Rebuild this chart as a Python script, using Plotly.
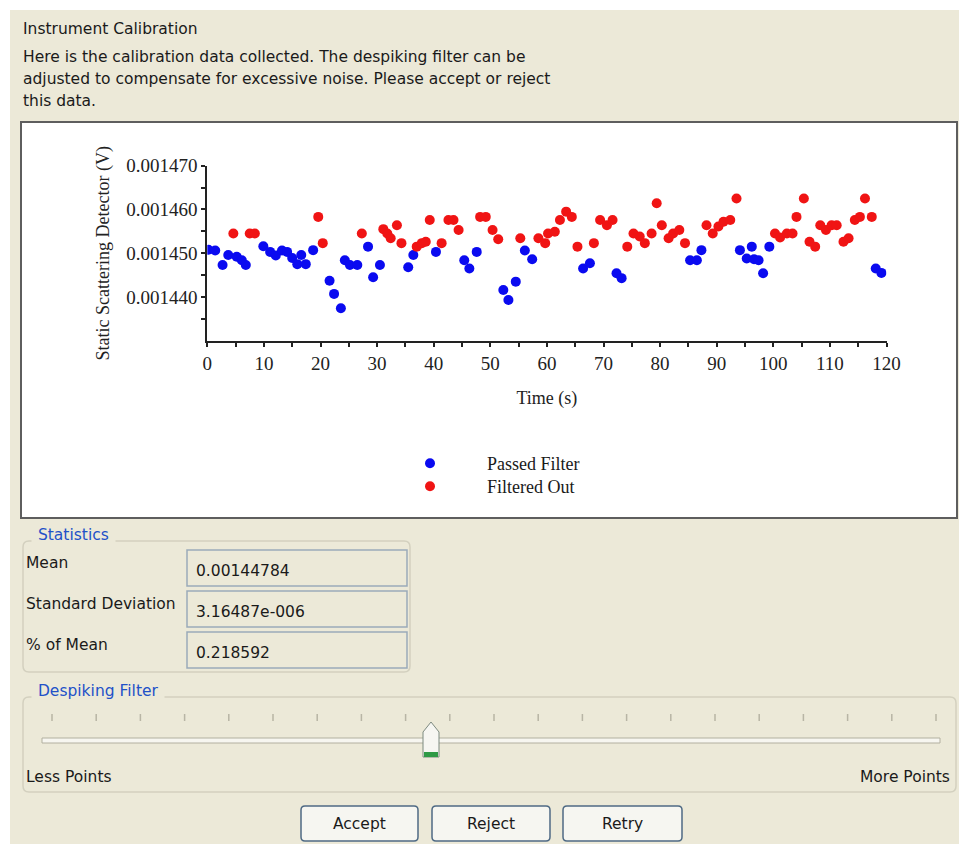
import plotly.graph_objects as go

W, H = 959, 844

# ---------------- data ----------------
passed_x = [0.2, 1.4, 2.7, 3.7, 5.2, 6.1, 6.8, 9.9, 11.1, 12.1, 13.2, 14.1, 15.0, 15.9,
            16.6, 17.4, 18.7, 21.6, 22.4, 23.6, 24.3, 25.2, 26.5, 28.4, 29.3, 30.5,
            35.5, 36.4, 40.4, 45.4, 46.3, 47.6, 52.3, 53.2, 54.5, 56.1, 57.4, 66.4,
            67.6, 72.3, 73.2, 85.3, 86.5, 87.3, 94.1, 95.3, 96.2, 96.6, 97.4, 98.2,
            99.3, 118.1, 119.1]
passed_y = [0.0014508, 0.0014506, 0.0014473, 0.0014496, 0.0014492, 0.0014484, 0.0014473,
            0.0014516, 0.0014503, 0.0014495, 0.0014506, 0.0014503, 0.0014489, 0.0014475,
            0.0014496, 0.0014475, 0.0014507, 0.0014437, 0.0014407, 0.0014374, 0.0014484,
            0.0014473, 0.0014473, 0.0014515, 0.0014445, 0.0014473, 0.0014468, 0.0014496,
            0.0014503, 0.0014484, 0.0014465, 0.0014503, 0.0014416, 0.0014393, 0.0014435,
            0.0014506, 0.0014486, 0.0014465, 0.0014477, 0.0014454, 0.0014443, 0.0014484,
            0.0014484, 0.0014507, 0.0014507, 0.0014488, 0.0014515, 0.0014486, 0.0014484,
            0.0014454, 0.0014515, 0.0014465, 0.0014455]

filtered_x = [4.6, 7.5, 8.4, 19.6, 20.4, 27.3, 31.1, 31.8, 32.4, 33.5, 34.3, 37.0, 37.9,
              38.6, 39.3, 41.4, 42.6, 43.5, 44.4, 48.2, 49.2, 50.4, 51.4, 55.3, 58.5,
              59.7, 60.2, 61.4, 62.3, 63.4, 64.4, 65.4, 68.3, 69.4, 70.6, 71.6, 74.2,
              75.3, 76.4, 77.3, 78.5, 79.4, 80.3, 81.5, 82.3, 83.4, 84.4, 88.2, 89.3,
              90.3, 91.2, 92.4, 93.5, 100.3, 101.2, 102.4, 103.4, 104.1, 105.4, 106.4,
              107.4, 108.3, 109.3, 110.3, 111.2, 112.4, 113.3, 114.4, 115.3, 116.2, 117.4]
filtered_y = [0.0014545, 0.0014545, 0.0014545, 0.0014583, 0.0014523, 0.0014545, 0.0014555,
              0.0014545, 0.0014534, 0.0014564, 0.0014523, 0.0014515, 0.0014523, 0.0014526,
              0.0014576, 0.0014523, 0.0014576, 0.0014576, 0.0014553, 0.0014583, 0.0014583,
              0.0014553, 0.0014532, 0.0014534, 0.0014534, 0.0014523, 0.0014545, 0.0014549,
              0.0014576, 0.0014595, 0.0014583, 0.0014515, 0.0014523, 0.0014576, 0.0014564,
              0.0014576, 0.0014515, 0.0014545, 0.0014538, 0.0014523, 0.0014545, 0.0014614,
              0.0014564, 0.0014534, 0.0014545, 0.0014553, 0.0014523, 0.0014564, 0.0014545,
              0.0014561, 0.0014572, 0.0014576, 0.0014625, 0.0014545, 0.0014536, 0.0014545,
              0.0014545, 0.0014583, 0.0014625, 0.0014526, 0.0014515, 0.0014564, 0.0014553,
              0.0014564, 0.0014564, 0.0014526, 0.0014534, 0.0014576, 0.0014583, 0.0014625,
              0.0014583]

x_tickvals = [0, 10, 20, 30, 40, 50, 60, 70, 80, 90, 100, 110, 120]
x_minorvals = [5, 15, 25, 35, 45, 55, 65, 75, 85, 95, 105, 115]
y_tickvals = [0.00144, 0.00145, 0.00146, 0.00147]
y_ticktext = ["0.001440", "0.001450", "0.001460", "0.001470"]
y_minorvals = [0.001435, 0.001445, 0.001455, 0.001465]

series_names = ["Passed Filter", "Filtered Out"]
series_colors = ["#0a0af0", "#f01414"]

header_title = "Instrument Calibration"
header_lines = ["Here is the calibration data collected. The despiking filter can be",
                "adjusted to compensate for excessive noise. Please accept or reject",
                "this data."]
stat_labels = ["Mean", "Standard Deviation", "% of Mean"]
stat_values = ["0.00144784", "3.16487e-006", "0.218592"]
button_labels = ["Accept", "Reject", "Retry"]

# ---------------- helpers (pixel -> paper) ----------------
def X(px):
    return px / W


def Y(py):
    return 1 - py / H


def rect(x0, y0, x1, y1, fill, line=None, lw=1, layer="below"):
    return dict(type="rect", xref="paper", yref="paper", x0=X(x0), x1=X(x1),
                y0=Y(y1), y1=Y(y0), fillcolor=fill, layer=layer,
                line=dict(color=line or fill, width=lw if line else 0))


def rrect(x0, y0, x1, y1, r, fill, line, lw=1, layer="below"):
    p = (f"M {X(x0+r)},{Y(y0)} L {X(x1-r)},{Y(y0)} Q {X(x1)},{Y(y0)} {X(x1)},{Y(y0+r)} "
         f"L {X(x1)},{Y(y1-r)} Q {X(x1)},{Y(y1)} {X(x1-r)},{Y(y1)} "
         f"L {X(x0+r)},{Y(y1)} Q {X(x0)},{Y(y1)} {X(x0)},{Y(y1-r)} "
         f"L {X(x0)},{Y(y0+r)} Q {X(x0)},{Y(y0)} {X(x0+r)},{Y(y0)} Z")
    return dict(type="path", xref="paper", yref="paper", path=p, fillcolor=fill,
                layer=layer, line=dict(color=line, width=lw))


GUI_FONT = "DejaVu Sans"
GUI_SIZE = 15.5
SERIF = "Liberation Serif"
BEIGE = "#ECE9D8"


def text(px, py, s, size=GUI_SIZE, color="#1a1a1a", anchor="left", family=GUI_FONT, bg=None):
    d = dict(x=X(px), y=Y(py), xref="paper", yref="paper", text=s, showarrow=False,
             xanchor=anchor, yanchor="middle",
             font=dict(family=family, size=size, color=color))
    if bg:
        d["bgcolor"] = bg
        d["borderpad"] = 1
    return d


fig = go.Figure()
for name, xs, ys, col, leg in [(series_names[0], passed_x, passed_y, series_colors[0], "legend"),
                               (series_names[1], filtered_x, filtered_y, series_colors[1], "legend2")]:
    fig.add_trace(go.Scatter(x=xs, y=ys, mode="markers", name=name, legend=leg,
                             marker=dict(color=col, size=10, line=dict(width=0))))

shapes = []
annotations = []

# dialog background
shapes.append(rect(10, 10, 959, 844, BEIGE))
# chart panel
shapes.append(rect(21, 122, 957, 518, "white", "#5e5e5e", 2))

# statistics group
shapes.append(rrect(23, 541, 410, 672, 6, "rgba(0,0,0,0)", "#d3d0bf", 1.5))
annotations.append(text(31, 535, " Statistics ", color="#2251c8", bg=BEIGE))
row_y = [568, 609, 650]
for lab, val, ry in zip(stat_labels, stat_values, row_y):
    shapes.append(rect(187, ry - 18, 407, ry + 18, BEIGE, "#9aabb9", 1.5))
    annotations.append(text(24, ry - 5, lab))
    annotations.append(text(194, ry + 3, val))

# despiking filter group
shapes.append(rrect(23, 697, 956, 792, 6, "rgba(0,0,0,0)", "#d3d0bf", 1.5))
annotations.append(text(31, 691, " Despiking Filter ", color="#2251c8", bg=BEIGE))
for i in range(21):
    tx = 52 + i * 44.2
    shapes.append(dict(type="line", xref="paper", yref="paper", x0=X(tx), x1=X(tx),
                       y0=Y(721), y1=Y(714), line=dict(color="#b8b5a5", width=1.5),
                       layer="below"))
shapes.append(rect(42, 738, 940, 743, "#f7f6f0", "#b2b0a0", 1))
thumb = (f"M {X(423)},{Y(757)} L {X(423)},{Y(732)} L {X(431)},{Y(722)} "
         f"L {X(439)},{Y(732)} L {X(439)},{Y(757)} Z")
shapes.append(dict(type="path", xref="paper", yref="paper", path=thumb, fillcolor="#f6f6f2",
                   line=dict(color="#7d8a80", width=1), layer="above"))
shapes.append(rect(424, 752, 438, 757, "#2f9a46", layer="above"))
annotations.append(text(24, 777, "Less Points"))
annotations.append(text(952, 777, "More Points", anchor="right"))

# buttons
btn_x = [(301, 418), (432, 550), (563, 682)]
for lab, (b0, b1) in zip(button_labels, btn_x):
    shapes.append(rrect(b0, 806, b1, 841, 4, "#f6f6f1", "#4f6a84", 1.5))
    annotations.append(text((b0 + b1) / 2, 824, lab, anchor="center"))

# header text
annotations.append(text(21, 29, header_title))
for i, ln in enumerate(header_lines):
    annotations.append(text(21, 57 + 22 * i, ln))

xdom = [X(207.3), X(886.5)]
ydom = [Y(340.7), Y(165.7)]
axis_common = dict(showgrid=False, zeroline=False, automargin=False)
legend_common = dict(x=X(373), xanchor="left", yanchor="top", bgcolor="rgba(0,0,0,0)",
                     itemwidth=104, font=dict(family=SERIF, size=18, color="#1a1a1a"))

fig.update_layout(
    width=W, height=H, autosize=False,
    margin=dict(l=0, r=0, t=0, b=0),
    paper_bgcolor="white", plot_bgcolor="white",
    shapes=shapes, annotations=annotations,
    showlegend=True,
    legend=dict(y=Y(445), **legend_common),
    legend2=dict(y=Y(468), **legend_common),
    xaxis=dict(domain=xdom, range=[0, 120], showline=True, linecolor="#222", linewidth=2,
               tickmode="array", tickvals=x_tickvals, ticks="outside", ticklen=4,
               tickwidth=2, tickcolor="#222",
               minor=dict(tickvals=x_minorvals, ticks="outside", ticklen=4,
                          tickwidth=2, tickcolor="#222"),
               tickfont=dict(family=SERIF, size=19, color="#222"),
               title=dict(text="Time (s)", standoff=19,
                          font=dict(family=SERIF, size=18, color="#222")),
               **axis_common),
    yaxis=dict(domain=ydom, range=[0.00143, 0.00147], showline=True, linecolor="#222",
               linewidth=2, tickmode="array", tickvals=y_tickvals, ticktext=y_ticktext,
               ticks="outside", ticklen=4, tickwidth=2, tickcolor="#222",
               minor=dict(tickvals=y_minorvals, ticks="outside", ticklen=4,
                          tickwidth=2, tickcolor="#222"),
               tickfont=dict(family=SERIF, size=19, color="#222"),
               title=dict(text="Static Scattering Detector (V)", standoff=12,
                          font=dict(family=SERIF, size=18, color="#222")),
               **axis_common),
    xaxis2=dict(domain=xdom, range=[0, 120], overlaying="x", anchor="y",
                tickmode="array", tickvals=x_tickvals, ticks="inside", ticklen=4,
                tickwidth=2, tickcolor="#222", showticklabels=False, showline=False,
                minor=dict(tickvals=x_minorvals, ticks="inside", ticklen=4,
                           tickwidth=2, tickcolor="#222"),
                **axis_common),
    yaxis2=dict(domain=ydom, range=[0.00143, 0.00147], overlaying="y", anchor="x",
                tickmode="array", tickvals=y_tickvals, ticks="inside", ticklen=4,
                tickwidth=2, tickcolor="#222", showticklabels=False, showline=False,
                minor=dict(tickvals=y_minorvals, ticks="inside", ticklen=4,
                           tickwidth=2, tickcolor="#222"),
                **axis_common),
)

fig.write_html(
    "out.html",
    config={"displayModeBar": False},
    post_script="document.body.style.margin='0';document.body.style.overflow='hidden';",
)
